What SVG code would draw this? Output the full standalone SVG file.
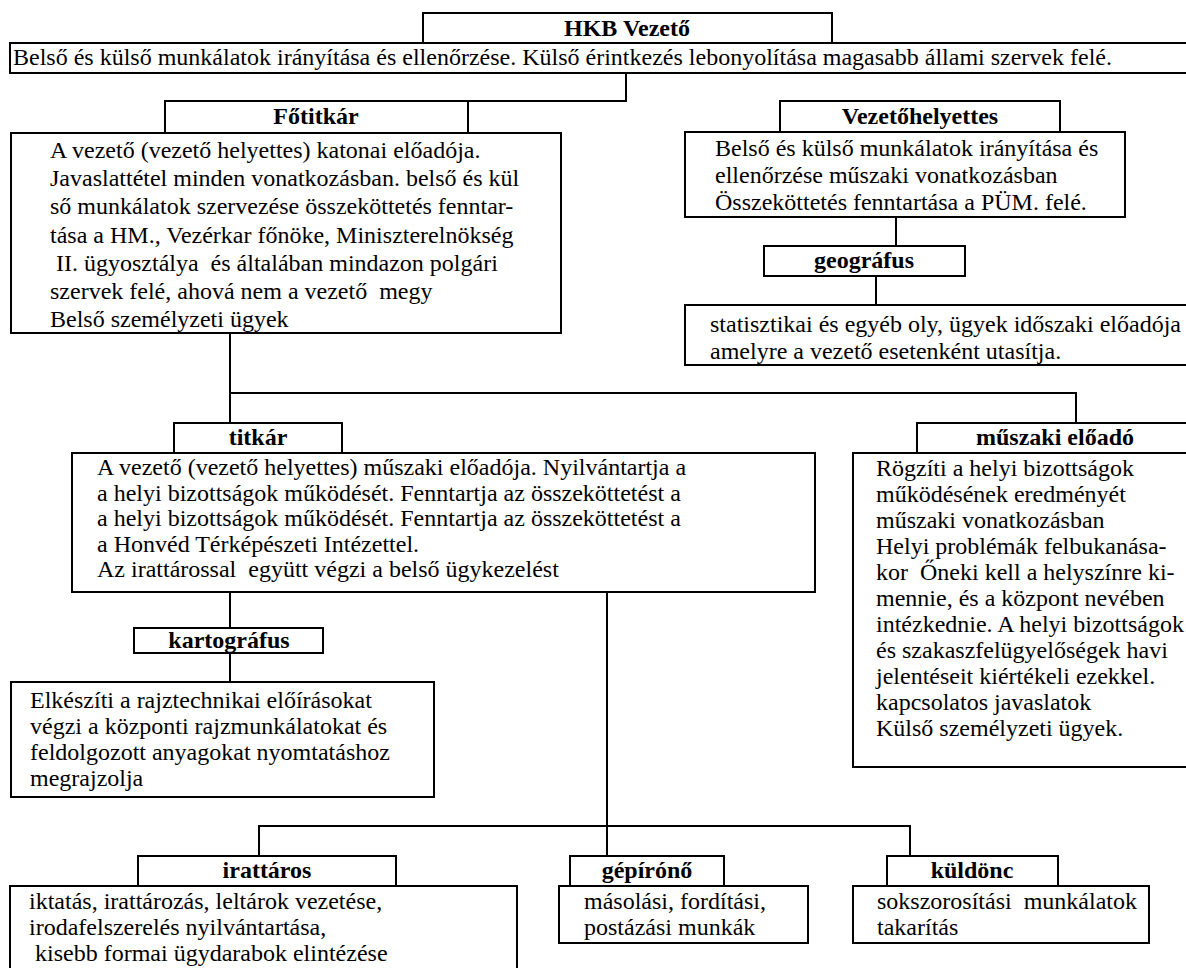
<svg xmlns="http://www.w3.org/2000/svg" width="1186" height="968" viewBox="0 0 1186 968">
<style>
rect{fill:#fff;stroke:#000;stroke-width:2}
.c{fill:none;stroke:#000;stroke-width:2}
text{font-family:"Liberation Serif","Times New Roman",serif;font-size:24px;fill:#000}
.t{font-weight:bold;text-anchor:middle}
</style>
<rect x="0" y="0" width="1186" height="968" style="stroke:none"/>
<g id="connectors">
<polyline class="c" points="626,73 626,101 468,101"/>
<line class="c" x1="896" y1="217" x2="896" y2="246"/>
<line class="c" x1="876" y1="276" x2="876" y2="305"/>
<line class="c" x1="230" y1="333" x2="230" y2="423"/>
<polyline class="c" points="230,393 1076,393 1076,423"/>
<line class="c" x1="230" y1="592" x2="230" y2="628"/>
<line class="c" x1="230" y1="653" x2="230" y2="682"/>
<line class="c" x1="607" y1="592" x2="607" y2="856"/>
<polyline class="c" points="259,856 259,826 910,826 910,856"/>
</g>
<g id="hkb">
<rect x="423" y="13" width="409" height="30"/>
<text class="t" x="627" y="36">HKB Vezető</text>
</g>
<g id="hkb-desc">
<rect x="10" y="43" width="1190" height="30"/>
<text x="13" y="65">Belső és külső munkálatok irányítása és ellenőrzése. Külső érintkezés lebonyolítása magasabb állami szervek felé.</text>
</g>
<g id="fotitkar">
<rect x="165" y="101" width="303" height="32"/>
<text class="t" x="316" y="124">Főtitkár</text>
</g>
<g id="fotitkar-desc">
<rect x="11" y="133" width="550" height="200"/>
<text x="50" y="158">A vezető (vezető helyettes) katonai előadója.</text>
<text x="50" y="186">Javaslattétel minden vonatkozásban. belső és kül</text>
<text x="50" y="214">ső munkálatok szervezése összeköttetés fenntar-</text>
<text x="50" y="243">tása a HM., Vezérkar főnöke, Miniszterelnökség</text>
<text x="50" y="271" xml:space="preserve"> II. ügyosztálya  és általában mindazon polgári</text>
<text x="50" y="299" xml:space="preserve">szervek felé, ahová nem a vezető  megy</text>
<text x="50" y="327">Belső személyzeti ügyek</text>
</g>
<g id="vezetohelyettes">
<rect x="780" y="101" width="280" height="31"/>
<text class="t" x="920" y="124">Vezetőhelyettes</text>
</g>
<g id="vezetohelyettes-desc">
<rect x="685" y="132" width="440" height="85"/>
<text x="715" y="156">Belső és külső munkálatok irányítása és</text>
<text x="715" y="183">ellenőrzése műszaki vonatkozásban</text>
<text x="715" y="210">Összeköttetés fenntartása a PÜM. felé.</text>
</g>
<g id="geografus">
<rect x="764" y="246" width="201" height="30"/>
<text class="t" x="864" y="268">geográfus</text>
</g>
<g id="geografus-desc">
<rect x="685" y="305" width="520" height="60"/>
<text x="710" y="332">statisztikai és egyéb oly, ügyek időszaki előadója</text>
<text x="710" y="359">amelyre a vezető esetenként utasítja.</text>
</g>
<g id="titkar">
<rect x="174" y="423" width="168" height="30"/>
<text class="t" x="258" y="445">titkár</text>
</g>
<g id="titkar-desc">
<rect x="72" y="453" width="743" height="139"/>
<text x="97" y="475">A vezető (vezető helyettes) műszaki előadója. Nyilvántartja a</text>
<text x="97" y="501">a helyi bizottságok működését. Fenntartja az összeköttetést a</text>
<text x="97" y="526">a helyi bizottságok működését. Fenntartja az összeköttetést a</text>
<text x="97" y="552">a Honvéd Térképészeti Intézettel.</text>
<text x="97" y="577" xml:space="preserve">Az irattárossal  együtt végzi a belső ügykezelést</text>
</g>
<g id="muszaki">
<rect x="917" y="423" width="280" height="30"/>
<text class="t" x="1055" y="445">műszaki előadó</text>
</g>
<g id="muszaki-desc">
<rect x="853" y="453" width="350" height="314"/>
<text x="876" y="476">Rögzíti a helyi bizottságok</text>
<text x="876" y="502">működésének eredményét</text>
<text x="876" y="528">műszaki vonatkozásban</text>
<text x="876" y="554">Helyi problémák felbukanása-</text>
<text x="876" y="580" xml:space="preserve">kor  Őneki kell a helyszínre ki-</text>
<text x="876" y="606">mennie, és a központ nevében</text>
<text x="876" y="632">intézkednie. A helyi bizottságok</text>
<text x="876" y="658">és szakaszfelügyelőségek havi</text>
<text x="876" y="684">jelentéseit kiértékeli ezekkel.</text>
<text x="876" y="710">kapcsolatos javaslatok</text>
<text x="876" y="736">Külső személyzeti ügyek.</text>
</g>
<g id="kartografus">
<rect x="134" y="628" width="189" height="25"/>
<text class="t" x="229" y="648">kartográfus</text>
</g>
<g id="kartografus-desc">
<rect x="11" y="682" width="423" height="115"/>
<text x="30" y="708">Elkészíti a rajztechnikai előírásokat</text>
<text x="30" y="734">végzi a központi rajzmunkálatokat és</text>
<text x="30" y="760">feldolgozott anyagokat nyomtatáshoz</text>
<text x="30" y="786">megrajzolja</text>
</g>
<g id="irattaros">
<rect x="138" y="856" width="258" height="30"/>
<text class="t" x="267" y="878">irattáros</text>
</g>
<g id="irattaros-desc">
<rect x="10" y="886" width="507" height="95"/>
<text x="29" y="909">iktatás, irattározás, leltárok vezetése,</text>
<text x="29" y="935">irodafelszerelés nyilvántartása,</text>
<text x="29" y="961" xml:space="preserve"> kisebb formai ügydarabok elintézése</text>
</g>
<g id="gepirono">
<rect x="570" y="856" width="154" height="30"/>
<text class="t" x="647" y="878">gépírónő</text>
</g>
<g id="gepirono-desc">
<rect x="559" y="886" width="249" height="57"/>
<text x="584" y="909">másolási, fordítási,</text>
<text x="584" y="935">postázási munkák</text>
</g>
<g id="kuldonc">
<rect x="887" y="856" width="171" height="30"/>
<text class="t" x="972" y="878">küldönc</text>
</g>
<g id="kuldonc-desc">
<rect x="853" y="886" width="296" height="57"/>
<text x="877" y="909" xml:space="preserve">sokszorosítási  munkálatok</text>
<text x="877" y="935">takarítás</text>
</g>
</svg>
